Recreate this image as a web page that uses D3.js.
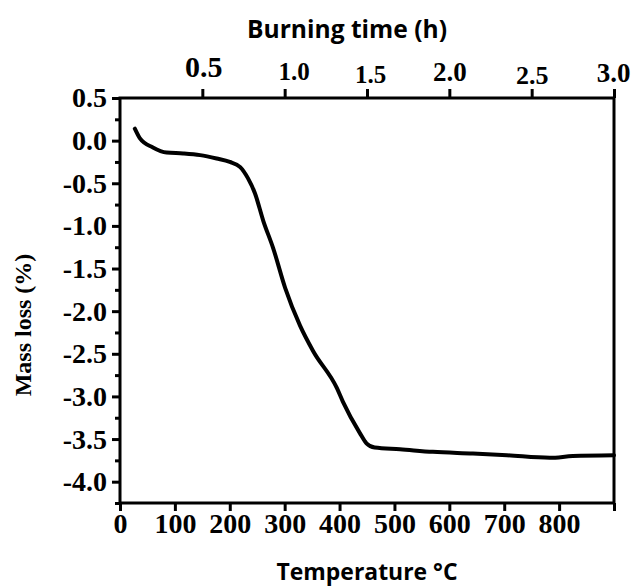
<!DOCTYPE html>
<html>
<head>
<meta charset="utf-8">
<script src="https://cdn.jsdelivr.net/npm/d3@7"></script>
<style>
  html, body { margin: 0; padding: 0; background: #fff; }
  svg { display: block; }
</style>
</head>
<body>
<svg id="chart" width="631" height="588"></svg>
<script>
// ---- data ----
const temperature = [27, 36, 60, 85, 115, 146, 176, 200, 219, 233, 246, 261, 279, 301, 328, 352, 395, 406, 437, 449, 464, 510, 570, 643, 705, 783, 825, 900];
const massLoss    = [0.14, 0.03, -0.08, -0.14, -0.15, -0.17, -0.21, -0.25, -0.31, -0.44, -0.62, -0.94, -1.26, -1.73, -2.17, -2.47, -2.90, -3.06, -3.43, -3.55, -3.60, -3.62, -3.65, -3.67, -3.69, -3.72, -3.70, -3.69];
const tempTicks = [0, 100, 200, 300, 400, 500, 600, 700, 800];
const timeTicks = [0.5, 1.0, 1.5, 2.0, 2.5, 3.0];
const massTicks = [0.5, 0.0, -0.5, -1.0, -1.5, -2.0, -2.5, -3.0, -3.5, -4.0];
const massMinorTicks = [0.25, -0.25, -0.75, -1.25, -1.75, -2.25, -2.75, -3.25, -3.75, -4.25];

// ---- layout ----
const svg = d3.select("#chart");
const L = 120, R = 614, T = 98, B = 503;
const x = d3.scaleLinear().domain([0, 900]).range([L, R]);
const xTop = d3.scaleLinear().domain([0, 3]).range([L, R]);
const y = d3.scaleLinear().domain([-4.25, 0.5]).range([B, T]);

const serif = "'Liberation Serif', 'Times New Roman', serif";
const sans = "'Open Sans', 'Liberation Sans', sans-serif";
const fmt1 = d => (d < 0 ? "-" : "") + Math.abs(d).toFixed(1);

// frame
svg.append("rect").attr("x", L).attr("y", T).attr("width", R - L).attr("height", B - T)
  .attr("fill", "none").attr("stroke", "#000").attr("stroke-width", 3);

// bottom axis
const gB = svg.append("g").attr("transform", `translate(0,${B})`)
  .call(d3.axisBottom(x).tickValues(tempTicks.concat([900])).tickSize(8)
    .tickFormat(d => d === 900 ? "" : String(d)));
// left axis
const gL = svg.append("g").attr("transform", `translate(${L},0)`)
  .call(d3.axisLeft(y).tickValues(massTicks).tickSize(8).tickFormat(fmt1));
const gLm = svg.append("g").attr("transform", `translate(${L},0)`)
  .call(d3.axisLeft(y).tickValues(massMinorTicks).tickSize(5).tickFormat(""));
// top axis
const gT = svg.append("g").attr("transform", `translate(0,${T})`)
  .call(d3.axisTop(xTop).tickValues(timeTicks).tickSize(9).tickFormat(d => d.toFixed(1)));

[gB, gL, gLm, gT].forEach(g => {
  g.select(".domain").remove();
  g.selectAll(".tick line").attr("stroke", "#000").attr("stroke-width", 3);
  g.selectAll("text").attr("fill", "#000").attr("font-family", serif).attr("font-weight", "bold");
});

gB.selectAll("text").attr("font-size", 28).attr("y", 10).attr("dy", "0.71em");
gL.selectAll("text").attr("font-size", 28).attr("x", -13);

const topSize = {0.5: 30, 1: 25, 1.5: 25, 2: 27, 2.5: 26, 3: 27};
const topBase = {0.5: 77, 1: 80, 1.5: 83, 2: 81, 2.5: 84, 3: 82};
const topShift = {0.5: 1, 1: 9, 1.5: 3, 2: 0, 2.5: 0, 3: -1};
gT.selectAll(".tick text")
  .attr("font-size", d => topSize[d])
  .attr("dy", null)
  .attr("x", d => topShift[d])
  .attr("y", d => topBase[d] - T);

// curve
const pts = temperature.map((t, i) => [t, massLoss[i]]);
const line = d3.line().x(d => x(d[0])).y(d => y(d[1])).curve(d3.curveMonotoneX);
svg.append("path").datum(pts).attr("d", line)
  .attr("fill", "none").attr("stroke", "#000").attr("stroke-width", 4)
  .attr("stroke-linejoin", "round").attr("stroke-linecap", "round");

// titles
svg.append("text").attr("x", 347).attr("y", 38).attr("text-anchor", "middle")
  .attr("font-family", sans).attr("font-weight", "bold").attr("font-size", 25)
  .attr("textLength", 200).attr("lengthAdjust", "spacingAndGlyphs")
  .text("Burning time (h)");
svg.append("text").attr("x", 367).attr("y", 580).attr("text-anchor", "middle")
  .attr("font-family", sans).attr("font-weight", "bold").attr("font-size", 24)
  .attr("textLength", 181).attr("lengthAdjust", "spacingAndGlyphs")
  .text("Temperature °C");
svg.append("text").attr("transform", "translate(31,325) rotate(-90)").attr("text-anchor", "middle")
  .attr("font-family", serif).attr("font-weight", "bold").attr("font-size", 24)
  .text("Mass loss (%)");
</script>
</body>
</html>
